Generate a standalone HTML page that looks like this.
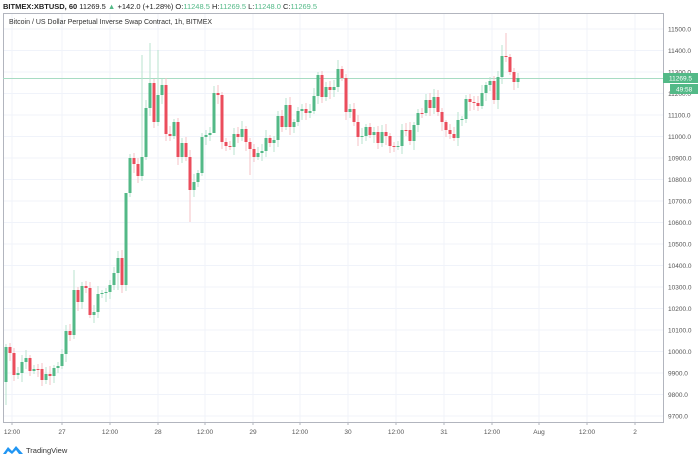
<!DOCTYPE html>
<html><head><meta charset="utf-8"><style>
body{margin:0;background:#fff;width:700px;height:468px;overflow:hidden;font-family:"Liberation Sans",sans-serif}
</style></head><body>
<svg id="s" width="700" height="468" xmlns="http://www.w3.org/2000/svg" font-family="Liberation Sans, sans-serif">
<g id="grid"></g>
<rect x="3.5" y="13.5" width="660" height="409" fill="none" stroke="#b2b5be" stroke-width="1"/>
<line x1="3" y1="78.5" x2="663" y2="78.5" stroke="#a8dcc3" stroke-width="1"/>
<g id="c"></g>
<text x="3" y="9" font-size="7.5" fill="#222"><tspan font-weight="bold">BITMEX:XBTUSD, 60</tspan> 11269.5 <tspan fill="#53b987">▲</tspan> +142.0 (+1.28%) O:<tspan fill="#53b987">11248.5</tspan> H:<tspan fill="#53b987">11269.5</tspan> L:<tspan fill="#53b987">11248.0</tspan> C:<tspan fill="#53b987">11269.5</tspan></text>
<text x="9" y="24" font-size="7" fill="#333">Bitcoin / US Dollar Perpetual Inverse Swap Contract, 1h, BITMEX</text>
<g id="ax" font-size="6.5" fill="#555"></g>
<rect x="663" y="73" width="35" height="10" fill="#53b987"/>
<text x="669" y="80.5" font-size="6.5" fill="#fff">11269.5</text>
<rect x="670" y="84" width="28" height="10" fill="#53b987"/>
<text x="676" y="91.5" font-size="6.5" fill="#fff">49:58</text>
<path d="M3 454 L8 447 L12 451 L16 446 L23 454 L19 454 L16 450 L12 454 L8 451 L6 454 Z" fill="#2196f3"/>
<text x="26" y="453" font-size="7.5" fill="#333">TradingView</text>
</svg>
<script>
const ns="http://www.w3.org/2000/svg";
function el(p,t,a,txt){const e=document.createElementNS(ns,t);for(const k in a)e.setAttribute(k,a[k]);if(txt)e.textContent=txt;p.appendChild(e);return e;}
const g=document.getElementById('grid'),ax=document.getElementById('ax'),c=document.getElementById('c');
for(let p=9700;p<=11500;p+=100){const y=29+(11500-p)*0.215;
 el(g,'line',{x1:4,x2:663,y1:y,y2:y,stroke:'#f0f3fa'});
 el(ax,'text',{x:668,y:y+2.5},p.toFixed(1));}
const xl=[[12,'12:00'],[62,'27'],[110,'12:00'],[158,'28'],[205,'12:00'],[253,'29'],[300,'12:00'],[348,'30'],[396,'12:00'],[444,'31'],[492,'12:00'],[539,'Aug'],[587,'12:00'],[635,'2']];
xl.forEach(([x,t])=>{el(g,'line',{x1:x,x2:x,y1:14,y2:422,stroke:'#f0f3fa'});
 el(ax,'line',{x1:x,x2:x,y1:422,y2:425,stroke:'#b2b5be'});
 el(ax,'text',{x:x,y:434,'text-anchor':'middle'},t);});
const cl=[347,353,375,373,362,358,371,369,369,380,374,376,368,366,354,331,335,290,302,286,288,315,312,294,293,292,285,273,258,285,193,
158,164,176,157,108,83,122,95,85,134,136,122,157,143,157,190,182,173,137,135,133,93,95,142,146,147,134,137,129,142,149,157,153,151,138,143,140,116,127,105,127,122,111,
109,113,111,96,75,97,87,90,87,69,78,112,109,122,137,136,127,135,132,143,132,136,146,147,146,130,130,141,125,113,113,
100,108,97,112,122,
130,134,138,120,119,99,102,103,106,93,85,81,100,77,56,57,72,82,78];
const wk={36:43,38:50,34:55,83:60,125:33,124:45,30:230,17:270,110:120,108:90};
const wl={46:222,28:290,0:405,61:175,52:112};
let o=382;
cl.forEach((cv,i)=>{const x=6+4*i;const up=cv<o;const col=up?'#53b987':'#eb4d5c';
 const top=Math.min(o,cv),bot=Math.max(o,cv);
 const hi=wk[i]!==undefined?wk[i]:top-3-(i*7%6);const lo=wl[i]!==undefined?wl[i]:bot+3+(i*5%7);
 el(c,'line',{x1:x,x2:x,y1:hi,y2:lo,stroke:up?'#b9e3cf':'#f5c1c6','stroke-width':1});
 el(c,'rect',{x:x-1.5,y:top,width:3,height:Math.max(1,bot-top),fill:col});
 o=cv;});
</script>
</body></html>
